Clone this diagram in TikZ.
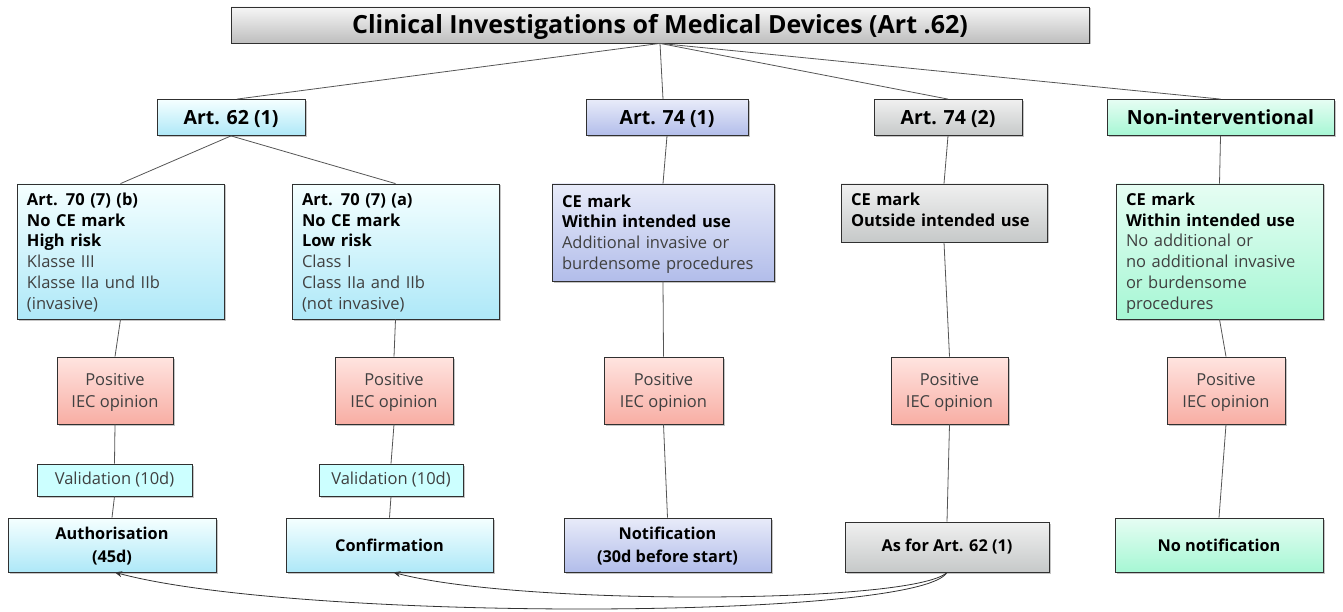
\documentclass[tikz,border=0pt]{standalone}
\usepackage{fontspec}
\setmainfont{Open Sans}
\usetikzlibrary{shadows,arrows.meta}
\definecolor{edgec}{HTML}{555555}
\definecolor{bdr}{HTML}{303030}
\definecolor{txt}{HTML}{404040}
\newcommand\fstitle{\fontsize{25}{30}\selectfont\bfseries}
\newcommand\fshead{\fontsize{19.5}{23}\selectfont\bfseries}
\newcommand\fsbody{\fontsize{16.5}{20.8}\selectfont}
\newcommand\fsiec{\fontsize{16.5}{22}\selectfont}
\newcommand\fsbot{\fontsize{16.3}{23}\selectfont\bfseries}
\newcommand\nb[1]{{\color{txt}#1}}
\newcommand\sta{\rule[-4.5pt]{0pt}{20.8pt}}
\newcommand\sti{\rule[-5.1pt]{0pt}{22pt}}
\newcommand\stb{\rule[-5.8pt]{0pt}{23pt}}
\begin{document}
\begin{tikzpicture}[x=1pt,y=-1pt,
  box/.style={draw=bdr, line width=0.8pt, inner sep=0pt, align=center,
    drop shadow={shadow xshift=1.5pt,shadow yshift=-1.5pt,fill=black!45,opacity=0.5}},
  bluebox/.style={box, top color=cyan!4!white, bottom color={rgb,255:red,174;green,232;blue,248}},
  purplebox/.style={box, top color={rgb,255:red,232;green,235;blue,249}, bottom color={rgb,255:red,178;green,189;blue,234}},
  graybox/.style={box, top color={rgb,255:red,240;green,240;blue,240}, bottom color={rgb,255:red,198;green,201;blue,201}},
  greenbox/.style={box, top color={rgb,255:red,230;green,253;blue,243}, bottom color={rgb,255:red,166;green,247;blue,212}},
  redbox/.style={box, top color={rgb,255:red,255;green,228;blue,224}, bottom color={rgb,255:red,248;green,174;blue,164}, font=\fsiec, text=txt},
  valbox/.style={box, fill={rgb,255:red,204;green,255;blue,255}, font=\fsbody, text=txt},
  titlebox/.style={box, top color={rgb,255:red,246;green,246;blue,246}, bottom color={rgb,255:red,190;green,190;blue,190}, font=\fstitle, text height=19pt, text depth=1pt},
  headtxt/.style={font=\fshead, text height=15pt, text depth=1pt},
  bottxt/.style={font=\fsbot},
  lbox/.style={align=left, inner xsep=10pt, font=\fsbody},
  link/.style={draw=edgec, line width=0.8pt},
  arr/.style={draw=black!80, line width=0.8pt, -{Stealth[length=7pt,width=6pt]}}
]
\useasboundingbox (0,0) rectangle (1343,612);

% title
\node[titlebox, minimum width=858pt, minimum height=36pt] (title) at (660,25) {Clinical Investigations of Medical Devices (Art .62)};

% header row
\node[bluebox, headtxt, minimum width=148pt, minimum height=36pt] (a62) at (231,117.5) {Art. 62 (1)};
\node[purplebox, headtxt, minimum width=162pt, minimum height=36pt] (a741) at (667,117.5) {Art. 74 (1)};
\node[graybox, headtxt, minimum width=148pt, minimum height=36pt] (a742) at (948,117.5) {Art. 74 (2)};
\node[greenbox, headtxt, minimum width=227pt, minimum height=36pt] (nonint) at (1220.5,117.5) {Non-interventional};

% second row
\node[bluebox, lbox, text width=187pt, minimum height=135pt] (r2b) at (120.5,251.5) {\sta\textbf{Art. 70 (7) (b)}\\\textbf{No CE mark}\\\textbf{High risk}\\\nb{Klasse III}\\\nb{Klasse IIa und IIb}\\\sta\nb{(invasive)}};
\node[bluebox, lbox, text width=187pt, minimum height=135pt] (r2a) at (395.5,251.5) {\sta\textbf{Art. 70 (7) (a)}\\\textbf{No CE mark}\\\textbf{Low risk}\\\nb{Class I}\\\nb{Class IIa and IIb}\\\sta\nb{(not invasive)}};
\node[purplebox, lbox, text width=202pt, minimum height=97pt] (ce741) at (663,232.5) {\sta\textbf{CE mark}\\\textbf{Within intended use}\\\nb{Additional invasive or}\\\sta\nb{burdensome procedures}};
\node[graybox, lbox, text width=186pt, minimum height=58pt] (ce742) at (944,213) {\sta\textbf{CE mark}\\\rule[-10pt]{0pt}{20.8pt}\textbf{Outside intended use}};
\node[greenbox, lbox, text width=187pt, minimum height=135pt] (ceni) at (1219.5,251.5) {\sta\textbf{CE mark}\\\textbf{Within intended use}\\\nb{No additional or}\\\nb{no additional invasive}\\\nb{or burdensome}\\\sta\nb{procedures}};

% IEC row
\node[redbox, minimum width=116pt, minimum height=67pt] (iec1) at (115,390.5) {\sti Positive\\\sti IEC opinion};
\node[redbox, minimum width=118pt, minimum height=67pt] (iec2) at (394,390.5) {\sti Positive\\\sti IEC opinion};
\node[redbox, minimum width=119pt, minimum height=67pt] (iec3) at (663.5,390.5) {\sti Positive\\\sti IEC opinion};
\node[redbox, minimum width=117pt, minimum height=67pt] (iec4) at (949.5,390.5) {\sti Positive\\\sti IEC opinion};
\node[redbox, minimum width=118pt, minimum height=67pt] (iec5) at (1226,390.5) {\sti Positive\\\sti IEC opinion};

% validation
\node[valbox, minimum width=155pt, minimum height=32pt] (val1) at (114.5,480) {Validation (10d)};
\node[valbox, minimum width=144pt, minimum height=32pt] (val2) at (391,480) {Validation (10d)};

% bottom row
\node[bluebox, bottxt, minimum width=208pt, minimum height=54pt] (auth) at (112,545) {\stb Authorisation\\\stb(45d)};
\node[bluebox, bottxt, minimum width=207pt, minimum height=54pt] (conf) at (389.5,545) {Confirmation};
\node[purplebox, bottxt, minimum width=207pt, minimum height=54pt] (notif) at (667.5,545) {\stb Notification\\\stb(30d before start)};
\node[graybox, bottxt, minimum width=204pt, minimum height=50pt] (asfor) at (947,547) {As for Art. 62 (1)};
\node[greenbox, bottxt, minimum width=208pt, minimum height=54pt] (nonot) at (1219,545) {No notification};

% connectors
\path[link] (title.south) -- ([xshift=6pt]a62.north);
\path[link] (title.south) -- ([xshift=-4pt]a741.north);
\path[link] (title.south) -- (a742.north);
\path[link] (title.south) -- (nonint.north);
\path[link] (a62.south) -- (r2b.north);
\path[link] (a62.south) -- (r2a.north);
\path[link] (a741.south) -- (ce741.north);
\path[link] (a742.south) -- (ce742.north);
\path[link] (nonint.south) -- (ceni.north);
\path[link] (r2b.south) -- (iec1.north);
\path[link] (r2a.south) -- (iec2.north);
\path[link] (ce741.south) -- (iec3.north);
\path[link] (ce742.south) -- (iec4.north);
\path[link] (ceni.south) -- (iec5.north);
\path[link] (iec1.south) -- (val1.north);
\path[link] (iec2.south) -- (val2.north);
\path[link] (val1.south) -- (auth.north);
\path[link] (val2.south) -- (conf.north);
\path[link] (iec3.south) -- (notif.north);
\path[link] (iec4.south) -- (asfor.north);
\path[link] (iec5.south) -- (nonot.north);

\draw[arr] (asfor.south) .. controls (920,620) and (300,622) .. ([xshift=3pt]auth.south);
\draw[arr] (asfor.south) .. controls (915,604) and (520,606) .. ([xshift=4pt]conf.south);
\end{tikzpicture}
\end{document}
